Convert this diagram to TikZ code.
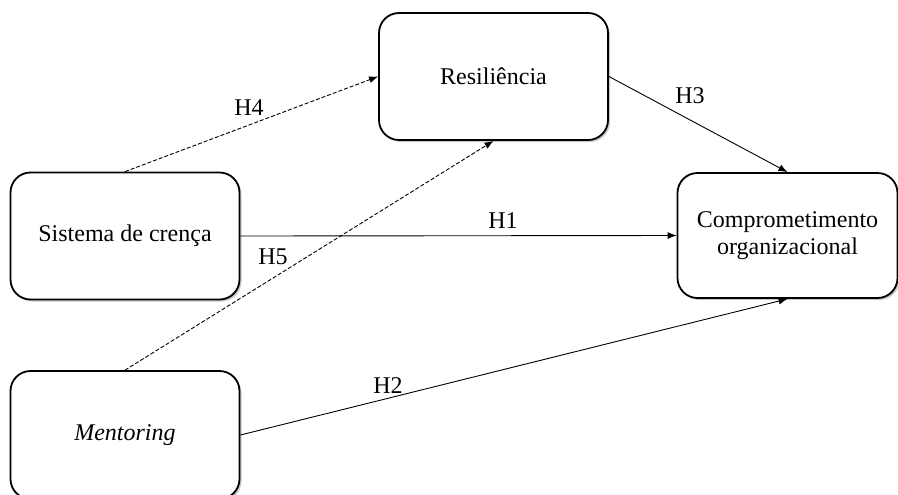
\documentclass[tikz,border=0pt]{standalone}
\usepackage{fontspec}
\setmainfont{Liberation Serif}
\usetikzlibrary{arrows.meta,shadows}
\begin{document}
\begin{tikzpicture}[x=0.5pt,y=-0.5pt]

    \useasboundingbox (0,0) rectangle (898,494);

    \tikzset{boxstyle/.style={draw,line width=0.9pt,rounded corners=10pt,fill=white,
        minimum width=114.5pt,minimum height=63.5pt,align=center,
        font=\fontsize{12}{13.5}\selectfont,
        drop shadow={shadow xshift=1pt,shadow yshift=-1pt,opacity=0.3,fill=black!70}}}
    \tikzset{arrstyle/.style={-{Latex[length=4.5pt,width=3.5pt]},line width=0.45pt}}
    \tikzset{dashstyle/.style={arrstyle,dash pattern=on 2pt off 1pt}}

    \node[boxstyle] (res) at (493.5, 76.5) {Resili\^encia};
    \node[boxstyle] (sis) at (125, 236) {Sistema de cren\c{c}a};
    \node[boxstyle,minimum width=110pt,minimum height=62.5pt] (com) at (787.5, 235.5) {Comprometimento\\organizacional};
    \node[boxstyle,minimum height=64pt] (men) at (125, 435) {\textit{Mentoring}};

    \draw[dashstyle] (sis.north) -- (res.west);
    \draw[dashstyle] (men.north) -- (res.south);
    \draw[arrstyle] (sis.east) -- (com.west);
    \draw[arrstyle] (res.east) -- (com.north);
    \draw[arrstyle] (men.east) -- (com.south);

    \node[font=\fontsize{12}{13.5}\selectfont] (h1) at (503, 221) {H1};
    \node[font=\fontsize{12}{13.5}\selectfont] (h2) at (388, 386) {H2};
    \node[font=\fontsize{12}{13.5}\selectfont] (h3) at (690, 96) {H3};
    \node[font=\fontsize{12}{13.5}\selectfont] (h4) at (249, 108) {H4};
    \node[font=\fontsize{12}{13.5}\selectfont] (h5) at (273, 257) {H5};

\end{tikzpicture}
\end{document}
